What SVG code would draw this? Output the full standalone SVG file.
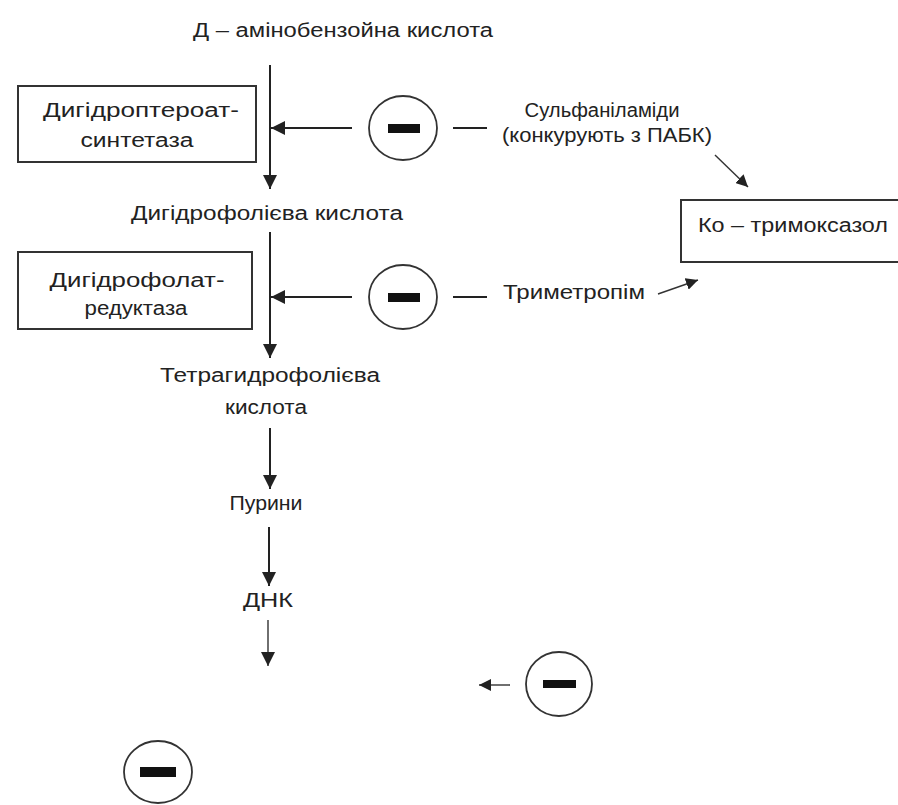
<svg xmlns="http://www.w3.org/2000/svg" width="898" height="805" viewBox="0 0 898 805">
<defs>
<style>
.t{font-family:"Liberation Sans","Arial",sans-serif;font-size:20px;fill:#222;text-anchor:middle}
.box{fill:#fff;stroke:#333;stroke-width:2}
.ln{stroke:#222;stroke-width:2;fill:none}
.thin{stroke:#333;stroke-width:1.4;fill:none}
.circ{fill:#fff;stroke:#333;stroke-width:1.8}
.bar{fill:#111}
</style>
<marker id="ah" viewBox="0 0 14 14" markerWidth="14" markerHeight="14" refX="14" refY="7" orient="auto" markerUnits="userSpaceOnUse">
<path d="M0,0 L14,7 L0,14 z" fill="#222"/>
</marker>
<marker id="ahs" viewBox="0 0 14 14" markerWidth="12" markerHeight="12" refX="14" refY="7" orient="auto" markerUnits="userSpaceOnUse">
<path d="M0,0 L14,7 L0,14 z" fill="#222"/>
</marker>
</defs>
<rect width="898" height="805" fill="#fff"/>

<g id="connectors">
<line class="ln" x1="270" y1="65" x2="270" y2="189" marker-end="url(#ah)"/>
<line class="ln" x1="352" y1="128" x2="271" y2="128" marker-end="url(#ah)"/>
<line class="ln" x1="453" y1="128" x2="487" y2="128"/>
<line class="thin" x1="715" y1="155" x2="748" y2="187" marker-end="url(#ahs)"/>
<line class="ln" x1="270" y1="232" x2="270" y2="358" marker-end="url(#ah)"/>
<line class="ln" x1="352" y1="297" x2="271" y2="297" marker-end="url(#ah)"/>
<line class="ln" x1="453" y1="297" x2="487" y2="297"/>
<line class="thin" x1="658" y1="294" x2="698" y2="280" marker-end="url(#ahs)"/>
<line class="ln" x1="270" y1="428" x2="270" y2="489" marker-end="url(#ah)"/>
<line class="ln" x1="269" y1="527" x2="269" y2="586" marker-end="url(#ah)"/>
<line class="thin" x1="268" y1="620" x2="268" y2="666" marker-end="url(#ah)"/>
<line class="thin" x1="510" y1="685" x2="479" y2="685" marker-end="url(#ahs)"/>
</g>

<g id="paba">
<text class="t" x="343" y="37" textLength="300" lengthAdjust="spacingAndGlyphs">Д – амінобензойна кислота</text>
</g>

<g id="dhps">
<rect class="box" x="18" y="86" width="238" height="76"/>
<text class="t" x="141" y="117" textLength="196" lengthAdjust="spacingAndGlyphs">Дигідроптероат-</text>
<text class="t" x="137" y="147" textLength="113" lengthAdjust="spacingAndGlyphs">синтетаза</text>
</g>

<g id="inhib1">
<ellipse class="circ" cx="403" cy="128" rx="34" ry="32"/>
<rect class="bar" x="388" y="124" width="32" height="9"/>
</g>

<g id="sulfa">
<text class="t" x="602" y="117" textLength="155" lengthAdjust="spacingAndGlyphs">Сульфаніламіди</text>
<text class="t" x="607" y="142" textLength="210" lengthAdjust="spacingAndGlyphs">(конкурують з ПАБК)</text>
</g>

<g id="cotrim">
<rect class="box" x="681" y="200" width="230" height="62"/>
<text class="t" x="793" y="232" textLength="190" lengthAdjust="spacingAndGlyphs">Ко – тримоксазол</text>
</g>

<g id="dhf">
<text class="t" x="267" y="220" textLength="272" lengthAdjust="spacingAndGlyphs">Дигідрофолієва кислота</text>
</g>

<g id="dhfr">
<rect class="box" x="18" y="252" width="234" height="77"/>
<text class="t" x="137" y="287" textLength="175" lengthAdjust="spacingAndGlyphs">Дигідрофолат-</text>
<text class="t" x="136" y="315" textLength="103" lengthAdjust="spacingAndGlyphs">редуктаза</text>
</g>

<g id="inhib2">
<ellipse class="circ" cx="403" cy="297" rx="34" ry="32"/>
<rect class="bar" x="388" y="293" width="32" height="9"/>
</g>

<g id="tmp">
<text class="t" x="574" y="299" textLength="142" lengthAdjust="spacingAndGlyphs">Триметропім</text>
</g>

<g id="thf">
<text class="t" x="270" y="382" textLength="220" lengthAdjust="spacingAndGlyphs">Тетрагидрофолієва</text>
<text class="t" x="266" y="414" textLength="82" lengthAdjust="spacingAndGlyphs">кислота</text>
</g>

<g id="purines">
<text class="t" x="266" y="510" textLength="73" lengthAdjust="spacingAndGlyphs">Пурини</text>
</g>

<g id="dna">
<text class="t" x="268" y="607" textLength="50" lengthAdjust="spacingAndGlyphs">ДНК</text>
</g>

<g id="inhib3">
<ellipse class="circ" cx="559" cy="684" rx="33" ry="32"/>
<rect class="bar" x="543" y="680" width="33" height="8"/>
</g>

<g id="inhib4">
<ellipse class="circ" cx="158" cy="772" rx="34" ry="31"/>
<rect class="bar" x="140" y="767" width="36" height="10"/>
</g>
</svg>
